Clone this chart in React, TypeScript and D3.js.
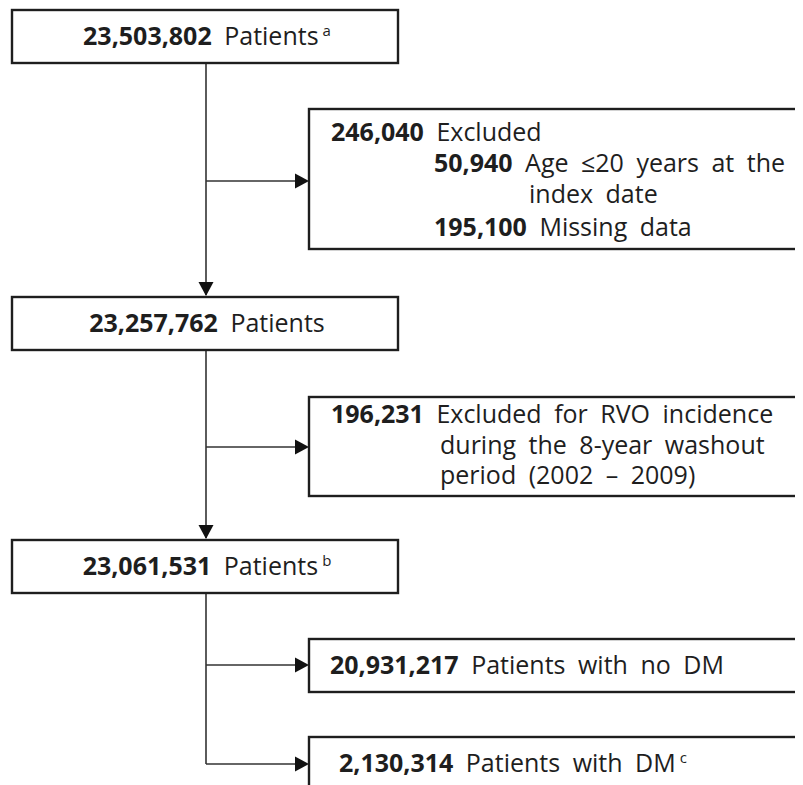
import React from 'react';
import * as d3 from 'd3';

// flow boxes on the main trunk
const mainCounts = ['23,503,802', '23,257,762', '23,061,531'];
const mainLabels = ['Patients', 'Patients', 'Patients'];
const mainNotes = ['a', '', 'b'];

// exclusion boxes
const exclCounts = ['246,040', '196,231'];
const exclHeads = ['Excluded', 'Excluded for RVO incidence'];
const exclSubCounts = [['50,940', '195,100'], []];
const exclSubLabels = [['Age \u226420 years at the', 'Missing data'], []];
const exclSubWrap = [['index date', ''], []];
const exclWrap = [[], ['during the 8-year washout', 'period (2002 \u2013 2009)']];

// final split
const outCounts = ['20,931,217', '2,130,314'];
const outLabels = ['Patients with no DM', 'Patients with DM'];
const outNotes = ['', 'c'];

const W = 803;
const H = 785;
const FONT = '"Open Sans", "DejaVu Sans", sans-serif';
const INK = '#1e1e1e';

// layout
const trunkX = 206;
const mainBox = { x0: 12, x1: 398, h: 53 };
const mainTops = [10, 297, 540];
const sideX = 309;
const sideRight = 830;
const exclBoxes = [{ top: 109, bottom: 249, arrow: 181 }, { top: 397, bottom: 496, arrow: 447 }];
const outBoxes = [{ top: 639, bottom: 692, arrow: 665 }, { top: 737, bottom: 860, arrow: 764 }];

const line = d3.line<[number, number]>();

const arrowHead = (tipX: number, tipY: number, dir: 'right' | 'down') => {
  const p = d3.path();
  if (dir === 'right') {
    p.moveTo(tipX, tipY);
    p.lineTo(tipX - 14, tipY - 7.5);
    p.lineTo(tipX - 14, tipY + 7.5);
  } else {
    p.moveTo(tipX, tipY);
    p.lineTo(tipX - 7.5, tipY - 14);
    p.lineTo(tipX + 7.5, tipY - 14);
  }
  p.closePath();
  return p.toString();
};

const Sup = ({ t }: { t: string }) =>
  t ? (
    <tspan fontSize={15} dy={-9} dx={4}>
      {t}
    </tspan>
  ) : null;

export default function App() {
  const fs = 25;
  const ws = 6;
  return (
    <svg width={W} height={H} style={{ display: 'block', margin: '-8px 0 0 -8px', background: '#fff' }}>
      <g fontFamily={FONT} fill={INK} style={{ wordSpacing: ws }}>
        {/* trunk connectors */}
        {mainTops.slice(1).map((t, i) => (
          <g key={'v' + i}>
            <path
              d={line([[trunkX, mainTops[i] + mainBox.h], [trunkX, t - 2]]) || ''}
              stroke="#333"
              strokeWidth={1.6}
              fill="none"
            />
            <path d={arrowHead(trunkX, t - 1, 'down')} fill="#111" />
          </g>
        ))}
        <path
          d={line([[trunkX, mainTops[2] + mainBox.h], [trunkX, outBoxes[1].arrow]]) || ''}
          stroke="#333"
          strokeWidth={1.6}
          fill="none"
        />

        {/* side arrows */}
        {[...exclBoxes, ...outBoxes].map((b, i) => (
          <g key={'h' + i}>
            <path
              d={line([[trunkX, b.arrow], [sideX - 4, b.arrow]]) || ''}
              stroke="#333"
              strokeWidth={1.6}
              fill="none"
            />
            <path d={arrowHead(sideX, b.arrow, 'right')} fill="#111" />
          </g>
        ))}

        {/* main boxes */}
        {mainTops.map((t, i) => (
          <g key={'m' + i}>
            <rect
              x={mainBox.x0}
              y={t}
              width={mainBox.x1 - mainBox.x0}
              height={mainBox.h}
              fill="#fff"
              stroke={INK}
              strokeWidth={2.4}
            />
            <text x={(mainBox.x0 + mainBox.x1) / 2 + 2} y={t + 35} fontSize={fs} textAnchor="middle">
              <tspan fontWeight="bold">{mainCounts[i]}</tspan>
              <tspan> {mainLabels[i]}</tspan>
              <Sup t={mainNotes[i]} />
            </text>
          </g>
        ))}

        {/* exclusion boxes */}
        {exclBoxes.map((b, i) => (
          <rect
            key={'e' + i}
            x={sideX}
            y={b.top}
            width={sideRight - sideX}
            height={b.bottom - b.top}
            fill="#fff"
            stroke={INK}
            strokeWidth={2.4}
          />
        ))}
        <text x={331} y={141} fontSize={fs}>
          <tspan fontWeight="bold">{exclCounts[0]}</tspan>
          <tspan> {exclHeads[0]}</tspan>
        </text>
        <text x={434} y={172} fontSize={fs}>
          <tspan fontWeight="bold">{exclSubCounts[0][0]}</tspan>
          <tspan> {exclSubLabels[0][0]}</tspan>
        </text>
        <text x={529} y={203} fontSize={fs}>
          {exclSubWrap[0][0]}
        </text>
        <text x={434} y={236} fontSize={fs}>
          <tspan fontWeight="bold">{exclSubCounts[0][1]}</tspan>
          <tspan> {exclSubLabels[0][1]}</tspan>
        </text>

        <text x={331} y={423} fontSize={fs}>
          <tspan fontWeight="bold">{exclCounts[1]}</tspan>
          <tspan> {exclHeads[1]}</tspan>
        </text>
        {exclWrap[1].map((s, j) => (
          <text key={'w' + j} x={440} y={454 + j * 30} fontSize={fs}>
            {s}
          </text>
        ))}

        {/* outcome boxes */}
        {outBoxes.map((b, i) => (
          <g key={'o' + i}>
            <rect
              x={sideX}
              y={b.top}
              width={sideRight - sideX}
              height={b.bottom - b.top}
              fill="#fff"
              stroke={INK}
              strokeWidth={2.4}
            />
            <text x={i === 0 ? 330 : 339} y={b.top + 35} fontSize={fs}>
              <tspan fontWeight="bold">{outCounts[i]}</tspan>
              <tspan> {outLabels[i]}</tspan>
              <Sup t={outNotes[i]} />
            </text>
          </g>
        ))}
      </g>
    </svg>
  );
}
